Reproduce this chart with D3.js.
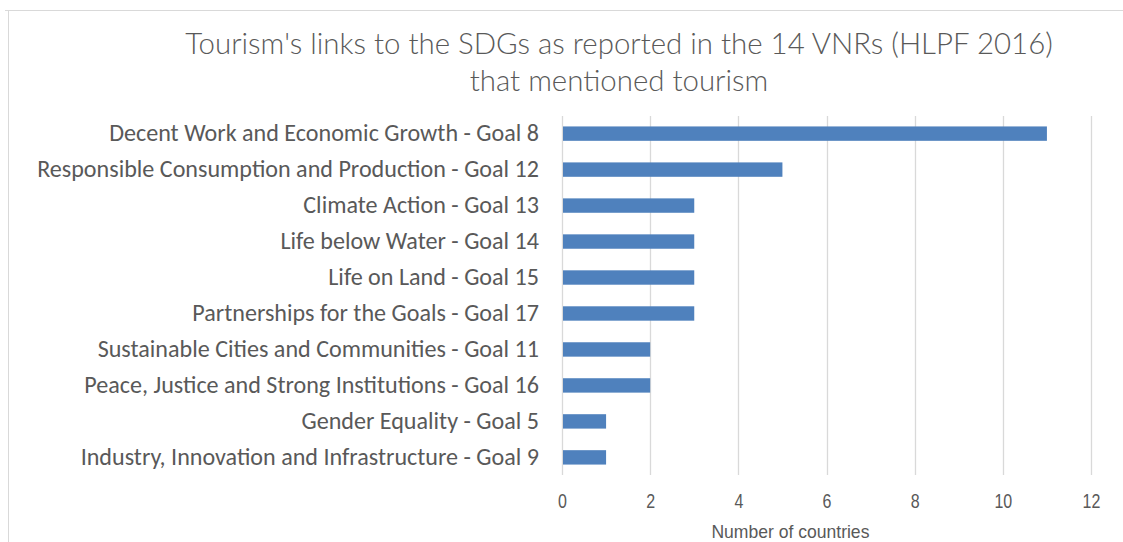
<!DOCTYPE html>
<html>
<head>
<meta charset="utf-8">
<script src="https://cdn.jsdelivr.net/npm/d3@7"></script>
<style>
  body { margin: 0; background: #fff; }
  svg { display: block; }
</style>
</head>
<body>
<div id="chart"></div>
<script>
// data
var categories = [
  "Decent Work and Economic Growth - Goal 8",
  "Responsible Consumption and Production - Goal 12",
  "Climate Action - Goal 13",
  "Life below Water - Goal 14",
  "Life on Land - Goal 15",
  "Partnerships for the Goals - Goal 17",
  "Sustainable Cities and Communities - Goal 11",
  "Peace, Justice and Strong Institutions - Goal 16",
  "Gender Equality - Goal 5",
  "Industry, Innovation and Infrastructure - Goal 9"
];
var values = [11, 5, 3, 3, 3, 3, 2, 2, 1, 1];
var xTicks = [0, 2, 4, 6, 8, 10, 12];
var titleLines = ["Tourism's links to the SDGs as reported in the 14 VNRs (HLPF 2016)", "that mentioned tourism"];
var xTitle = "Number of countries";

var W = 1123, H = 542;
var margin = {top: 116, right: 32, bottom: 67, left: 562};
var width = W - margin.left - margin.right,
    height = H - margin.top - margin.bottom;

var svg = d3.select("#chart").append("svg")
    .attr("width", W)
    .attr("height", H);

// chart area border (top + left edge visible)
svg.append("path")
    .attr("d", "M5,10.5H" + W + "M8.5,10.5V" + H)
    .attr("fill", "none")
    .attr("stroke", "#d9d9d9")
    .attr("stroke-width", 1);

var g = svg.append("g")
    .attr("transform", "translate(" + margin.left + "," + margin.top + ")");

var x = d3.scaleLinear().domain([0, 12]).range([0, width]);
var y = d3.scaleBand().domain(categories).range([0, height]).paddingInner(0.6).paddingOuter(0.29);

// gridlines
g.selectAll(".grid")
    .data(xTicks)
  .enter().append("line")
    .attr("class", "grid")
    .attr("x1", function(d) { return Math.round(x(d)) + 0.5; })
    .attr("x2", function(d) { return Math.round(x(d)) + 0.5; })
    .attr("y1", 0)
    .attr("y2", height)
    .attr("stroke", "#d9d9d9")
    .attr("stroke-width", 1.3);

// bars
g.selectAll(".bar")
    .data(values)
  .enter().append("rect")
    .attr("class", "bar")
    .attr("x", x(0) + 1)
    .attr("y", function(d, i) { return y(categories[i]); })
    .attr("width", function(d) { return x(d) - x(0) - 1; })
    .attr("height", y.bandwidth())
    .attr("fill", "#4f81bd");

// fit a text node to a target width by adjusting font size
function fit(sel, target) {
  sel.each(function() {
    var fs = parseFloat(d3.select(this).style("font-size"));
    var w = this.getComputedTextLength();
    if (w > 0) d3.select(this).style("font-size", (fs * target / w) + "px");
  });
}

// category labels
var yAxis = g.append("g")
    .call(d3.axisLeft(y).tickSize(0).tickPadding(23));
yAxis.select(".domain").remove();
yAxis.selectAll("text")
    .attr("fill", "#595959")
    .style("font-family", "Carlito, 'Open Sans', 'Noto Sans', sans-serif")
    .style("font-size", "19px");
fit(yAxis.selectAll("text").filter(function(d) { return d === categories[0]; }), 430);
var catSize = yAxis.selectAll("text").filter(function(d) { return d === categories[0]; }).style("font-size");
yAxis.selectAll("text").style("font-size", catSize);

// x tick labels (narrow look: squeeze horizontally)
var xAxis = g.append("g")
    .attr("transform", "translate(0," + height + ")")
    .call(d3.axisBottom(x).tickValues(xTicks).tickSize(0).tickPadding(0));
xAxis.select(".domain").remove();
xAxis.selectAll(".tick text")
    .attr("y", 33)
    .attr("dy", null)
    .attr("fill", "#595959")
    .attr("transform", "scale(0.8,1)")
    .style("font-family", "'Liberation Sans Narrow', 'Arial Narrow', 'Liberation Sans', sans-serif")
    .style("font-size", "20px");

// x axis title
svg.append("text")
    .attr("x", margin.left + x(5) + 8)
    .attr("y", 538)
    .attr("text-anchor", "middle")
    .attr("fill", "#595959")
    .attr("textLength", 158)
    .attr("lengthAdjust", "spacingAndGlyphs")
    .style("font-family", "'Liberation Sans Narrow', 'Arial Narrow', 'Liberation Sans', sans-serif")
    .style("font-size", "19px")
    .text(xTitle);

// title
var title = svg.append("g");
title.selectAll("text")
    .data(titleLines)
  .enter().append("text")
    .attr("x", 619)
    .attr("y", function(d, i) { return 54 + i * 37; })
    .attr("text-anchor", "middle")
    .attr("fill", "#595959")
    .style("font-family", "Lato, Carlito, 'Open Sans', sans-serif")
    .style("font-weight", 300)
    .style("font-size", "26px")
    .text(function(d) { return d; });
fit(title.select("text"), 868);
title.selectAll("text").style("font-size", title.select("text").style("font-size"));
</script>
</body>
</html>
